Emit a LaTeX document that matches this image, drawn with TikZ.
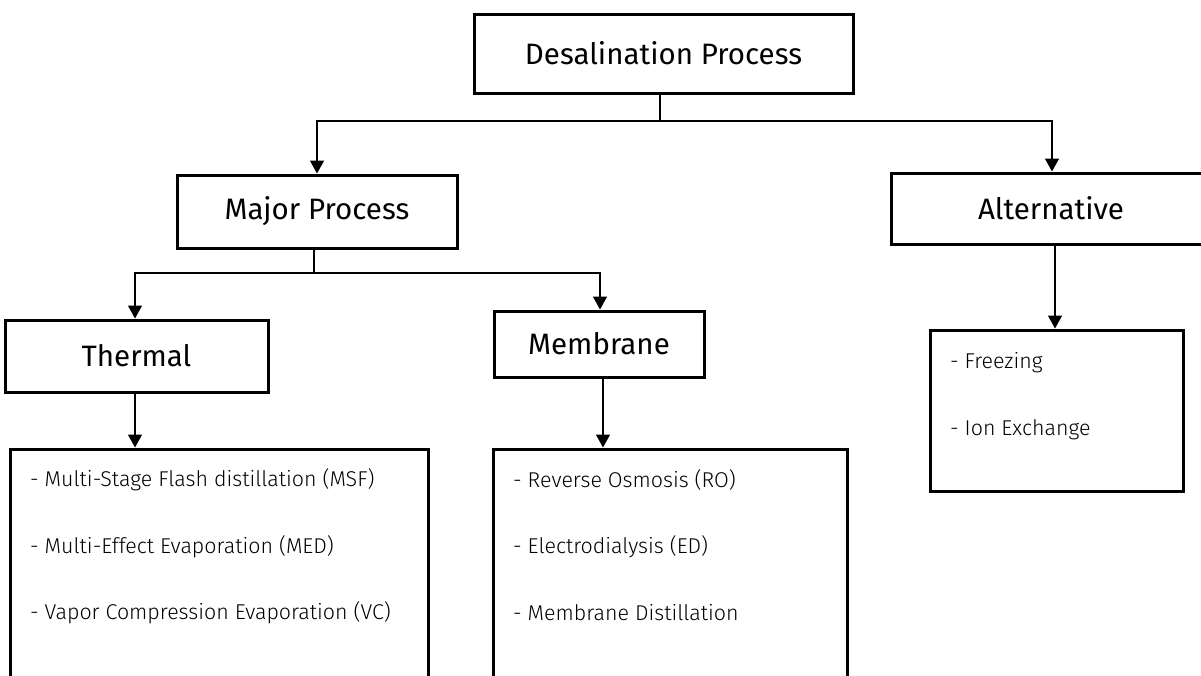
\documentclass[tikz,border=0pt]{standalone}
\usepackage{fontspec}
\newfontfamily\headfont{Fira Sans}
\newfontfamily\itemfont{Fira Sans Light}
\usetikzlibrary{arrows.meta}
\begin{document}
\begin{tikzpicture}[x=1pt,y=-1pt,
  box/.style={draw=black, line width=3pt, fill=white, inner sep=0pt},
  head/.style={font=\headfont\fontsize{29.5}{33}\selectfont},
  item/.style={anchor=west, inner sep=0pt, font=\itemfont\fontsize{21.4}{25}\selectfont},
  conn/.style={draw=black, line width=1.4pt},
  arr/.style={conn, -{Triangle[width=14pt,length=13pt]}}]
\useasboundingbox (0,0) rectangle (1201,675);
% title boxes
\node[box, head, minimum width=379pt, minimum height=79pt] (top) at (663.5,53.5) {Desalination Process};
\node[box, head, minimum width=280pt, minimum height=73pt] (major) at (317,211.5) {Major Process};
\node[box, head, minimum width=320pt, minimum height=71pt] (alt) at (1051,208.5) {Alternative};
\node[box, head, minimum width=263pt, minimum height=72pt] (thermal) at (136.5,356) {Thermal};
\node[box, head, minimum width=210pt, minimum height=66pt] (membrane) at (599,344) {Membrane};
% list boxes
\node[box, minimum width=418pt, minimum height=261pt] (tlist) at (219,579.5) {};
\node[box, minimum width=354pt, minimum height=261pt] (mlist) at (670,579.5) {};
\node[box, minimum width=253pt, minimum height=161pt] (alist) at (1056.5,410.5) {};
% list texts
\node[item] (t1) at (30,480) {- Multi-Stage Flash distillation (MSF)};
\node[item] (t2) at (30,547) {- Multi-Effect Evaporation (MED)};
\node[item] (t3) at (30,613) {- Vapor Compression Evaporation (VC)};
\node[item] (m1) at (513,480) {- Reverse Osmosis (RO)};
\node[item] (m2) at (513,547) {- Electrodialysis (ED)};
\node[item] (m3) at (513,613) {- Membrane Distillation};
\node[item] (a1) at (950,363) {- Freezing};
\node[item] (a2) at (950,430) {- Ion Exchange};
% junctions
\coordinate (j1) at ([xshift=-3.5pt]top.south |- 0,121);
\coordinate (j2) at ([xshift=-3pt]major.south |- 0,273);
% connectors
\draw[conn] ([xshift=-3.5pt]top.south) -- (j1);
\draw[arr] (j1) -- (major.north |- j1) -- (major.north);
\draw[arr] (j1) -- ([xshift=1pt]alt.north |- j1) -- ([xshift=1pt]alt.north);
\draw[conn] ([xshift=-3pt]major.south) -- (j2);
\draw[arr] (j2) -- ([xshift=-1.5pt]thermal.north |- j2) -- ([xshift=-1.5pt]thermal.north);
\draw[arr] (j2) -- ([xshift=1pt]membrane.north |- j2) -- ([xshift=1pt]membrane.north);
\draw[arr] ([xshift=-1.5pt]thermal.south) -- ([xshift=-1.5pt]thermal.south |- tlist.north);
\draw[arr] ([xshift=4pt]membrane.south) -- ([xshift=4pt]membrane.south |- mlist.north);
\draw[arr] ([xshift=4pt]alt.south) -- ([xshift=4pt]alt.south |- alist.north);
\end{tikzpicture}
\end{document}
